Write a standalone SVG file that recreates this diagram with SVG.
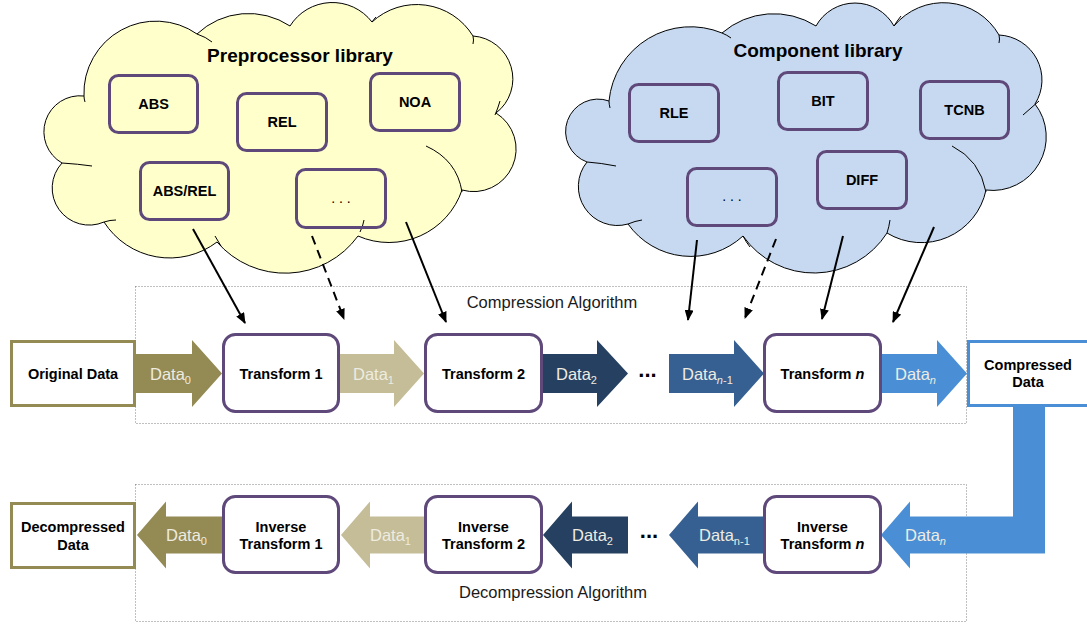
<svg xmlns="http://www.w3.org/2000/svg" width="1087" height="626" viewBox="0 0 1087 626">
<style>
.cloud{stroke:#000;stroke-width:1}
.tail{fill:none;stroke:#000;stroke-width:1}
.lib{fill:none;stroke:#5F497A;stroke-width:3}
.box{fill:#fff;stroke:#5F497A;stroke-width:3}
.lbl{font-family:"Liberation Sans",Arial,sans-serif;font-weight:bold;font-size:14.5px;text-anchor:middle;fill:#000}
.ttl{font-family:"Liberation Sans",Arial,sans-serif;font-weight:bold;font-size:19px;text-anchor:middle;fill:#000}
.dl{font-family:"Liberation Sans",Arial,sans-serif;font-size:16.5px;fill:#EEECE1}
.alg{font-family:"Liberation Sans",Arial,sans-serif;font-size:16.5px;text-anchor:middle;fill:#1a1a1a}
.ell{font-family:"Liberation Sans",Arial,sans-serif;font-weight:bold;font-size:22px;text-anchor:middle;fill:#000}
.sm{font-family:"Liberation Sans",Arial,sans-serif;font-size:14px;text-anchor:middle;fill:#000}
.dotbox{fill:none;stroke:#808080;stroke-width:1;stroke-dasharray:1 2}
.conn{fill:none;stroke:#000;stroke-width:2;marker-end:url(#ah)}
.dash{stroke-dasharray:9 6}
</style>
<defs>
<marker id="ah" markerWidth="11" markerHeight="9" refX="10" refY="4.5" orient="auto" markerUnits="userSpaceOnUse">
<path d="M0,0 L11,4.5 L0,9 z" fill="#000"/>
</marker>
</defs>

<!-- algorithm frames -->
<rect class="dotbox" x="135.5" y="286.5" width="831" height="137"/>
<rect class="dotbox" x="135.5" y="484.5" width="831" height="137"/>
<text class="alg" x="552" y="308">Compression Algorithm</text>
<text class="alg" x="553" y="598">Decompression Algorithm</text>

<!-- Preprocessor library cloud -->
<g id="preprocessor-library">
<path class="cloud" fill="#FFFFCC" d="M84,96 A72,72 0 0 1 197,34 A75,75 0 0 1 290,26 A50,50 0 0 1 372,22 A66,66 0 0 1 473,36 A43,43 0 0 1 496,113 A42.5,42.5 0 0 1 462,190 A77,77 0 0 1 358,236 A90,90 0 0 1 217,242 A78,78 0 0 1 104,222 A37,37 0 0 1 62,163 A36,36 0 0 1 84,96 Z"/>
<path class="tail" d="M197,34 Q206,37 212,42 M104,222 Q110,220 116,220 M215,236 Q218,241 221,246 M360,232 Q363,226 364,220 M426,146 Q457,160 462,192 M495,115 Q498,108 500,101 M473,36 Q474,40 473,44 M62,163 Q78,164 92,166 M84,96 Q84,99 85,102 M372,22 Q374,19 376,17"/>
<text class="ttl" x="300" y="62">Preprocessor library</text>
</g>
<g id="pre-abs"><rect class="lib" x="109.5" y="75.5" width="88" height="57" rx="9"/><text class="lbl" x="153.5" y="109">ABS</text></g>
<g id="pre-rel"><rect class="lib" x="237.5" y="93.5" width="89" height="57" rx="9"/><text class="lbl" x="282" y="127">REL</text></g>
<g id="pre-noa"><rect class="lib" x="370.5" y="73.5" width="89" height="57" rx="9"/><text class="lbl" x="415" y="107">NOA</text></g>
<g id="pre-absrel"><rect class="lib" x="140.5" y="162.5" width="88" height="57" rx="9"/><text class="lbl" x="184.5" y="196">ABS/REL</text></g>
<g id="pre-more"><rect class="lib" x="296.5" y="169.5" width="89" height="58" rx="9"/><text class="sm" x="341" y="203">. . .</text></g>

<!-- Component library cloud -->
<g id="component-library">
<path class="cloud" fill="#C6D9F1" d="M609,101 A82,82 0 0 1 722,33 A79,79 0 0 1 816,26 A44.6,44.6 0 0 1 894,26 A64,64 0 0 1 999,35 A45,45 0 0 1 1035,104 A53.6,53.6 0 0 1 986,190 A66,66 0 0 1 887,233 A86.6,86.6 0 0 1 743,236 A77,77 0 0 1 628,224 A39,39 0 0 1 587,162 A32,32 0 0 1 609,101 Z"/>
<path class="tail" d="M722,33 Q727,35 731,38 M1023,115 Q1031,108 1039,101 M952,146 Q980,160 986,192 M890,220 Q889,227 887,233 M743,236 Q746,242 750,247 M628,224 Q635,221 642,220 M587,162 Q601,163 616,166 M999,35 Q1000,39 999,43 M609,101 Q609,104 610,108 M894,26 Q897,21 901,16"/>
<text class="ttl" x="818" y="57">Component library</text>
</g>
<g id="comp-rle"><rect class="lib" x="629.5" y="84.5" width="89" height="57" rx="9"/><text class="lbl" x="674" y="118">RLE</text></g>
<g id="comp-bit"><rect class="lib" x="778.5" y="72.5" width="89" height="57" rx="9"/><text class="lbl" x="823" y="106">BIT</text></g>
<g id="comp-tcnb"><rect class="lib" x="920.5" y="81.5" width="88" height="57" rx="9"/><text class="lbl" x="964.5" y="115">TCNB</text></g>
<g id="comp-more"><rect class="lib" x="687.5" y="168.5" width="89" height="57" rx="9"/><text class="sm" x="732" y="201">. . .</text></g>
<g id="comp-diff"><rect class="lib" x="817.5" y="151.5" width="89" height="57" rx="9"/><text class="lbl" x="862" y="185">DIFF</text></g>

<!-- connectors -->
<g id="connectors">
<line class="conn" x1="193" y1="229" x2="245" y2="323"/>
<line class="conn dash" x1="312" y1="236" x2="344" y2="319"/>
<line class="conn" x1="406" y1="222" x2="446" y2="322"/>
<line class="conn" x1="697" y1="240" x2="688" y2="320"/>
<line class="conn dash" x1="776" y1="239" x2="745" y2="318"/>
<line class="conn" x1="843" y1="236" x2="822" y2="319"/>
<line class="conn" x1="934" y1="227" x2="893" y2="322"/>

<!-- forward data arrows -->
<polygon fill="#948A54" points="136,354 192,354 192,340 222,373.5 192,407 192,393 136,393"/>
<polygon fill="#C4BD97" points="340,354 394,354 394,340 424,373.5 394,407 394,393 340,393"/>
<polygon fill="#254061" points="543,354 597,354 597,340 628,373.5 597,407 597,393 543,393"/>
<polygon fill="#366092" points="669,354 734,354 734,340 764,373.5 734,407 734,393 669,393"/>
<polygon fill="#4A8FD6" points="882,354 937,354 937,340 967,373.5 937,407 937,393 882,393"/>

<!-- return path and backward data arrows -->
<polygon fill="#4A8FD6" points="1013,405 1045,405 1045,553.5 910,553.5 910,568.5 881,535 910,501.5 910,516.5 1013,516.5"/>
<polygon fill="#366092" points="763,516.5 698,516.5 698,501.5 669,535 698,568.5 698,553.5 763,553.5"/>
<polygon fill="#254061" points="628,516.5 572,516.5 572,501.5 543,535 572,568.5 572,553.5 628,553.5"/>
<polygon fill="#C4BD97" points="424,516.5 370,516.5 370,501.5 341,535 370,568.5 370,553.5 424,553.5"/>
<polygon fill="#948A54" points="222,516.5 166,516.5 166,501.5 137,535 166,568.5 166,553.5 222,553.5"/>
</g>

<!-- data labels -->
<text class="dl" x="150" y="380">Data<tspan font-size="11" dy="4">0</tspan></text>
<text class="dl" x="353" y="380">Data<tspan font-size="11" dy="4">1</tspan></text>
<text class="dl" x="556" y="380">Data<tspan font-size="11" dy="4">2</tspan></text>
<text class="dl" x="682" y="380">Data<tspan font-size="11" dy="4"><tspan font-style="italic">n</tspan>-1</tspan></text>
<text class="dl" x="895" y="380">Data<tspan font-size="11" dy="4" font-style="italic">n</tspan></text>
<text class="ell" x="647.5" y="377">...</text>

<text class="dl" x="166" y="541">Data<tspan font-size="11" dy="4">0</tspan></text>
<text class="dl" x="370" y="541">Data<tspan font-size="11" dy="4">1</tspan></text>
<text class="dl" x="572" y="541">Data<tspan font-size="11" dy="4">2</tspan></text>
<text class="dl" x="699" y="541">Data<tspan font-size="11" dy="4">n-1</tspan></text>
<text class="dl" x="905" y="541">Data<tspan font-size="11" dy="4" font-style="italic">n</tspan></text>
<text class="ell" x="649" y="538">...</text>

<!-- nodes -->
<g id="original-data"><rect x="11.5" y="341.5" width="123" height="64" fill="#fff" stroke="#948A54" stroke-width="3"/><text class="lbl" x="73" y="379">Original Data</text></g>
<g id="transform-1"><rect class="box" x="223.5" y="334.5" width="115" height="77" rx="12"/><text class="lbl" x="281" y="379">Transform 1</text></g>
<g id="transform-2"><rect class="box" x="425.5" y="334.5" width="116" height="77" rx="12"/><text class="lbl" x="483.5" y="379">Transform 2</text></g>
<g id="transform-n"><rect class="box" x="764.5" y="334.5" width="116" height="77" rx="12"/><text class="lbl" x="822.5" y="379">Transform <tspan font-style="italic">n</tspan></text></g>
<g id="compressed-data"><rect x="968.5" y="341.5" width="125" height="64" fill="#fff" stroke="#4A8FD6" stroke-width="3"/><text class="lbl" x="1028" y="370">Compressed</text><text class="lbl" x="1028" y="387">Data</text></g>

<g id="decompressed-data"><rect x="11.5" y="503.5" width="123" height="64" fill="#fff" stroke="#948A54" stroke-width="3"/><text class="lbl" x="73" y="532">Decompressed</text><text class="lbl" x="73" y="550">Data</text></g>
<g id="inverse-transform-1"><rect class="box" x="223.5" y="496.5" width="115" height="76" rx="12"/><text class="lbl" x="281" y="532">Inverse</text><text class="lbl" x="281" y="549">Transform 1</text></g>
<g id="inverse-transform-2"><rect class="box" x="425.5" y="496.5" width="116" height="76" rx="12"/><text class="lbl" x="483.5" y="532">Inverse</text><text class="lbl" x="483.5" y="549">Transform 2</text></g>
<g id="inverse-transform-n"><rect class="box" x="764.5" y="496.5" width="116" height="76" rx="12"/><text class="lbl" x="822.5" y="532">Inverse</text><text class="lbl" x="822.5" y="549">Transform <tspan font-style="italic">n</tspan></text></g>
</svg>
